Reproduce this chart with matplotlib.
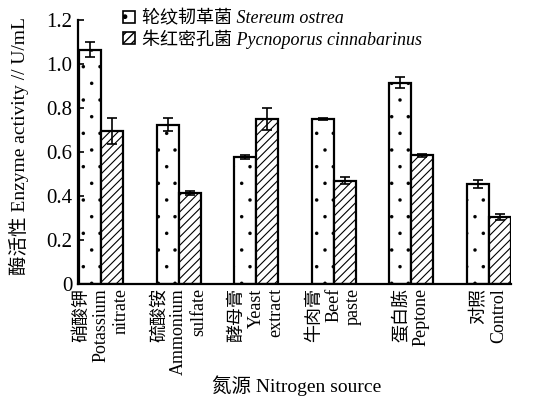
import numpy as np
import matplotlib
matplotlib.use('Agg')
import matplotlib.pyplot as plt

plt.rcParams['font.family'] = ['Liberation Serif', 'Noto Sans CJK SC']

sources = ['硝酸钾\nPotassium\nnitrate', '硫酸铵\nAmmonium\nsulfate', '酵母膏\nYeast\nextract',
           '牛肉膏\nBeef\npaste', '蛋白胨\nPeptone', '对照\nControl']
stereum = [1.065, 0.725, 0.578, 0.750, 0.915, 0.455]
stereum_err = [0.035, 0.030, 0.010, 0.004, 0.025, 0.020]
pycno = [0.695, 0.415, 0.750, 0.470, 0.585, 0.305]
pycno_err = [0.060, 0.010, 0.050, 0.015, 0.008, 0.012]

x = np.arange(len(sources))
w = 0.285

fig = plt.figure(figsize=(5.45, 3.97), dpi=100)
ax = fig.add_axes([0.143, 0.2846, 0.795, 0.665])

b1 = ax.bar(x - w/2, stereum, w, yerr=stereum_err, color='white', edgecolor='black', linewidth=1.6,
            hatch='.', capsize=3.5, error_kw=dict(elinewidth=1.2, capthick=1.2),
            label='轮纹韧革菌 Stereum ostrea')
b2 = ax.bar(x + w/2, pycno, w, yerr=pycno_err, color='white', edgecolor='black', linewidth=1.6,
            hatch='////', capsize=3.5, error_kw=dict(elinewidth=1.2, capthick=1.2),
            label='朱红密孔菌 Pycnoporus cinnabarinus')
for p in b1:
    p.set_hatch_linewidth(0.1)
for p in b2:
    p.set_hatch_linewidth(0.8)

ax.set_xlim(-0.3, 5.29)
ax.set_ylim(0, 1.2)
ax.set_yticks([0, 0.2, 0.4, 0.6, 0.8, 1.0, 1.2])
ax.set_yticklabels(['0', '0.2', '0.4', '0.6', '0.8', '1.0', '1.2'])
ax.tick_params(axis='y', direction='in', length=4, width=1.2, labelsize=15, pad=4)
ax.set_xticks(x)
ax.set_xticklabels(sources, rotation=90, ha='center', va='top', multialignment='right', fontsize=13)
ax.tick_params(axis='x', length=0, pad=3)

for s in ['top', 'right']:
    ax.spines[s].set_visible(False)
for s in ['left', 'bottom']:
    ax.spines[s].set_linewidth(1.6)

fig.text(19/545, 0.632, '酶活性 Enzyme activity // U/mL', rotation=90, fontsize=14,
         ha='center', va='center')
fig.text(297/545, 1 - 386/397, '氮源 Nitrogen source', fontsize=14, ha='center', va='center')

leg = ax.legend(loc='upper left', bbox_to_anchor=(0.088, 1.065), frameon=False,
                prop={'size': 13, 'style': 'italic'},
                handlelength=0.65, handleheight=0.65, handletextpad=0.4, labelspacing=0.1,
                borderaxespad=0)
for p in leg.get_patches():
    p.set_linewidth(1.2)

fig.savefig('out.png', dpi=100)
